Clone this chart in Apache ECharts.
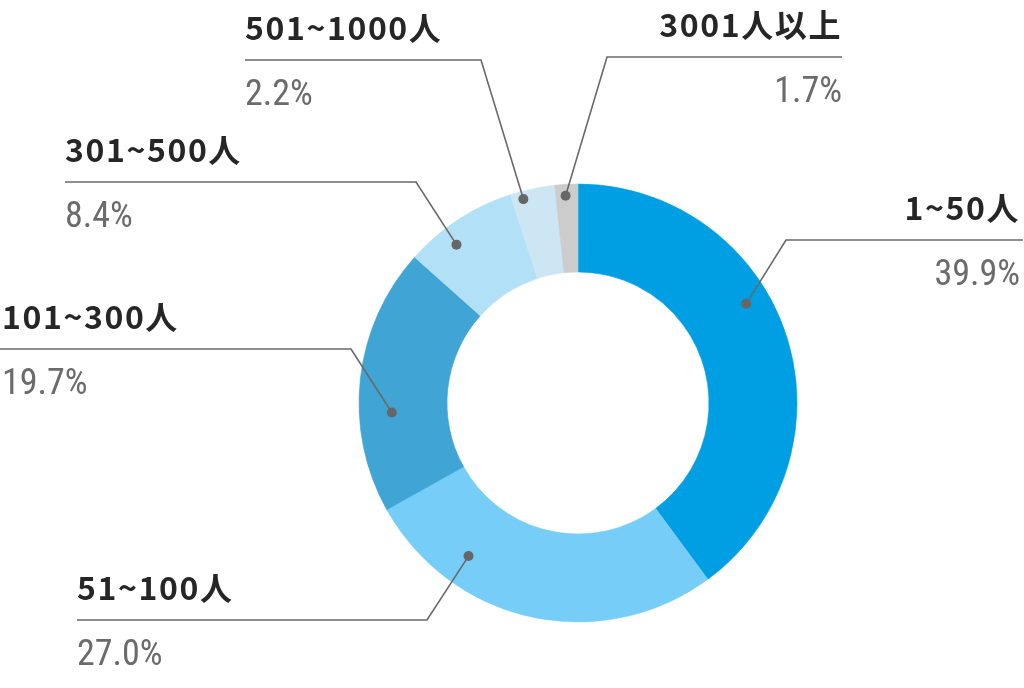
<!DOCTYPE html>
<html>
<head>
<meta charset="utf-8">
<script src="https://cdn.jsdelivr.net/npm/echarts@6/dist/echarts.min.js"></script>
<style>
html,body{margin:0;padding:0;background:#fff;}
#c{width:1024px;height:688px;}
</style>
</head>
<body>
<div id="c"></div>
<script>
// ---- data ----
const categories = ['1~50人', '51~100人', '101~300人', '301~500人', '501~1000人', '1001~3000人', '3001人以上'];
const values = [39.9, 27.0, 19.7, 8.4, 2.2, 1.1, 1.7];
const labelled = [true, true, true, true, true, false, true];
const colors = ['#009fe3', '#75cdf8', '#40a4d5', '#b2e1f7', '#cde6f4', '#cde6f4', '#cccccc'];

// ---- layout ----
const CX = 578, CY = 403, R0 = 131, R1 = 219;
const labelPlace = [
  {align: 'right', x: 1020, lineY: 240, elbowX: 786, endX: 1023, frac: 0.414, rf: 0.73},
  {align: 'left',  x: 77,   lineY: 620, elbowX: 427, endX: 77,   frac: 0.74,  rf: 0.65},
  {align: 'left',  x: 2,    lineY: 349, elbowX: 351, endX: 0,    frac: 0.37,  rf: 0.63},
  {align: 'left',  x: 65,   lineY: 182, elbowX: 416, endX: 65,   frac: 0.355, rf: 0.78},
  {align: 'left',  x: 245,  lineY: 60,  elbowX: 481, endX: 245,  frac: 0.38,  rf: 0.91},
  null,
  {align: 'right', x: 842,  lineY: 57,  elbowX: 607, endX: 842,  frac: 0.44,  rf: 0.87}
];

// pick an installed condensed face for the percentages
function hasFont(f) {
  const cv = document.createElement('canvas').getContext('2d');
  const s = '39.9% abcdefghijklmnop WMW';
  let same = true;
  ['monospace', 'serif'].forEach(base => {
    cv.font = '40px ' + base;
    const w0 = cv.measureText(s).width;
    cv.font = "40px '" + f + "'," + base;
    if (Math.abs(cv.measureText(s).width - w0) > 0.5) same = false;
  });
  return !same;
}
const condensedCandidates = ['Roboto Condensed', 'Liberation Sans Narrow', 'DejaVu Sans Condensed'];
const found = condensedCandidates.filter(hasFont);
const pctFont = found.length ? "'" + found[0] + "'" : 'Roboto';

const total = values.reduce((a, b) => a + b, 0);
function dotPoint(i) {
  let start = 0;
  for (let k = 0; k < i; k++) start += values[k];
  const a = (start + values[i] * labelPlace[i].frac) / total * 2 * Math.PI;
  const r = R0 + (R1 - R0) * labelPlace[i].rf;
  return [CX + r * Math.sin(a), CY - r * Math.cos(a)];
}

function spaced(text) {
  return Array.from(text).map(ch => `{c|${ch}}`).join('');
}

const chart = echarts.init(document.getElementById('c'), null, {renderer: 'canvas'});

const baseData = categories.map((n, i) => ({
  name: n,
  value: values[i],
  itemStyle: {color: colors[i], borderColor: colors[i], borderWidth: 0.6},
  label: {show: labelled[i]}
}));

const dotData = categories.map((n, i) => ({
  name: n,
  value: values[i],
  label: {show: labelled[i]},
  labelLine: {show: labelled[i]}
}));

chart.setOption({
  animation: false,
  backgroundColor: '#ffffff',
  series: [
    {
      type: 'pie',
      z: 2,
      center: [CX, CY],
      radius: [R0, R1],
      startAngle: 90,
      clockwise: true,
      avoidLabelOverlap: false,
      silent: true,
      data: baseData,
      label: {
        show: true,
        position: 'outside',
        formatter: p => `${spaced(p.name)}\n{p|${Number(p.value).toFixed(1)}%}`,
        rich: {
          c: {fontFamily: 'Noto Sans CJK JP', fontWeight: 'bold', fontSize: 32, color: '#262626', lineHeight: 40, padding: [0, 1.6, 0, 0]},
          p: {fontFamily: pctFont, fontSize: 36, color: '#6b6b6b', lineHeight: 96}
        }
      },
      labelLine: {show: false},
      labelLayout: function (params) {
        const c = labelPlace[params.dataIndex];
        if (!c) return {};
        return {x: c.x, y: c.lineY - 52, align: c.align, verticalAlign: 'top'};
      }
    },
    {
      type: 'pie',
      z: 10,
      center: [CX, CY],
      radius: [R0, R1],
      startAngle: 90,
      clockwise: true,
      avoidLabelOverlap: false,
      silent: true,
      itemStyle: {color: 'rgba(0,0,0,0)', borderWidth: 0},
      data: dotData,
      label: {
        show: true,
        position: 'outside',
        formatter: ' ',
        width: 10,
        height: 10,
        padding: 0,
        backgroundColor: '#666666',
        borderRadius: 5
      },
      labelLine: {show: true, showAbove: true, lineStyle: {color: '#696969', width: 1.6}},
      labelLayout: function (params) {
        const c = labelPlace[params.dataIndex];
        if (!c) return {};
        const pt = dotPoint(params.dataIndex);
        return {
          x: pt[0], y: pt[1], align: 'center', verticalAlign: 'middle',
          labelLinePoints: [pt, [c.elbowX, c.lineY], [c.endX, c.lineY]]
        };
      }
    }
  ]
});
</script>
</body>
</html>
